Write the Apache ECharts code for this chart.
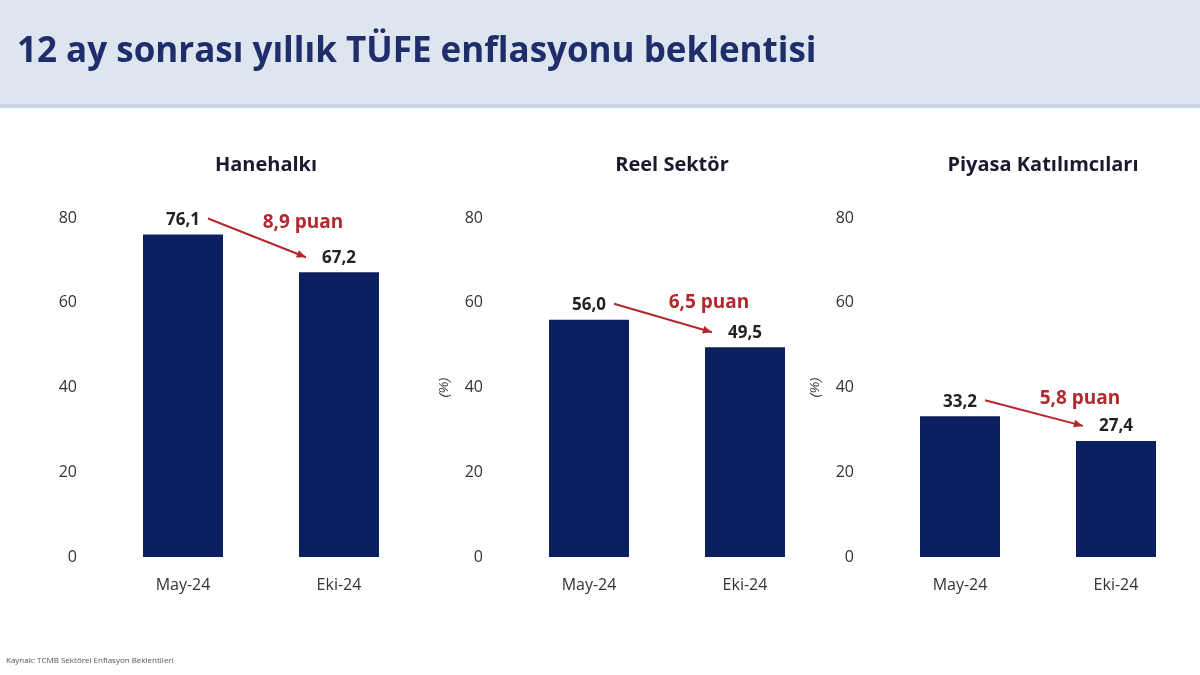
<!DOCTYPE html><html><head><meta charset="utf-8"><script src="https://cdn.jsdelivr.net/npm/echarts@6/dist/echarts.min.js"></script>
<style>body{margin:0}#c{width:1200px;height:675px}</style></head><body><div id="c"></div><script>
const categories=['May-24','Eki-24'];
const panelTitles=['Hanehalkı','Reel Sektör','Piyasa Katılımcıları'];
const hanehalki=[76.1,67.2];
const reelSektor=[56.0,49.5];
const piyasa=[33.2,27.4];
const diffLabels=['8,9 puan','6,5 puan','5,8 puan'];
const yTicks=[0,20,40,60,80];
const all=[hanehalki,reelSektor,piyasa];
const lefts=[105,511,882], W=312, TOP=218, BOT=118;
const fmt=v=>v.toFixed(1).replace('.',',');
const chart=echarts.init(document.getElementById('c'));
const opt={backgroundColor:'#fff',
 title:[{text:'12 ay sonrası yıllık TÜFE enflasyonu beklentisi',left:12,top:30,textStyle:{fontFamily:'Open Sans',fontSize:35,fontWeight:'bold',color:'#1f2d6b'}}].concat(
  panelTitles.map((t,i)=>({text:t,left:lefts[i]+W/2,top:150,textAlign:'center',textStyle:{fontFamily:'Open Sans',fontSize:20,fontWeight:'bold',color:'#1a1a2e'}}))),
 grid:[],xAxis:[],yAxis:[],series:[],
 graphic:[{type:'rect',shape:{x:0,y:0,width:1200,height:106},style:{fill:'#dde5ef'},z:-10},
  {type:'rect',shape:{x:0,y:104,width:1200,height:4},style:{fill:'#c9d5e4'},z:-10},
  {type:'text',left:6,top:657,style:{text:'Kaynak: TCMB Sektörel Enflasyon Beklentileri',fontSize:8,fill:'#555',fontFamily:'Open Sans'}}]
};
all.forEach((d,i)=>{
 opt.grid.push({left:lefts[i],width:W,top:TOP,bottom:BOT});
 opt.xAxis.push({type:'category',gridIndex:i,data:categories,axisLine:{show:false},axisTick:{show:false},axisLabel:{fontSize:16,color:'#333',margin:20,fontFamily:'Open Sans'}});
 opt.yAxis.push({type:'value',gridIndex:i,min:0,max:80,interval:20,splitLine:{show:false},axisLabel:{fontSize:16,color:'#333',margin:28,fontFamily:'Open Sans'},
  name:i>0?'(%)':'',nameLocation:'middle',nameGap:60,nameTextStyle:{fontStyle:'italic',fontSize:13,color:'#333'}});
 opt.series.push({type:'bar',xAxisIndex:i,yAxisIndex:i,data:d,barWidth:80,itemStyle:{color:'#0c1f5e'},
  label:{show:true,position:'top',distance:6,formatter:p=>fmt(p.value),fontSize:17,fontWeight:'bold',color:'#222',fontFamily:'Open Sans'}});
});
chart.setOption(opt);
const g=[];
all.forEach((d,i)=>{
 const a=chart.convertToPixel({xAxisIndex:i,yAxisIndex:i},[0,d[0]]);
 const b=chart.convertToPixel({xAxisIndex:i,yAxisIndex:i},[1,d[1]]);
 const x1=a[0]+25,y1=a[1]-16,x2=b[0]-33,y2=b[1]-15;
 const ang=Math.atan2(y2-y1,x2-x1),L=10;
 g.push({type:'line',shape:{x1,y1,x2,y2},style:{stroke:'#b3272d',lineWidth:2}});
 g.push({type:'polygon',shape:{points:[[x2,y2],[x2-L*Math.cos(ang-0.4),y2-L*Math.sin(ang-0.4)],[x2-L*Math.cos(ang+0.4),y2-L*Math.sin(ang+0.4)]]},style:{fill:'#b3272d'}});
 g.push({type:'text',x:(a[0]+b[0])/2+42,y:(y1+y2)/2-15,style:{text:diffLabels[i],align:'center',verticalAlign:'middle',fontSize:19,fontWeight:'bold',fill:'#b3272d',fontFamily:'Open Sans'}});
});
chart.setOption({graphic:opt.graphic.concat(g)});
</script></body></html>
